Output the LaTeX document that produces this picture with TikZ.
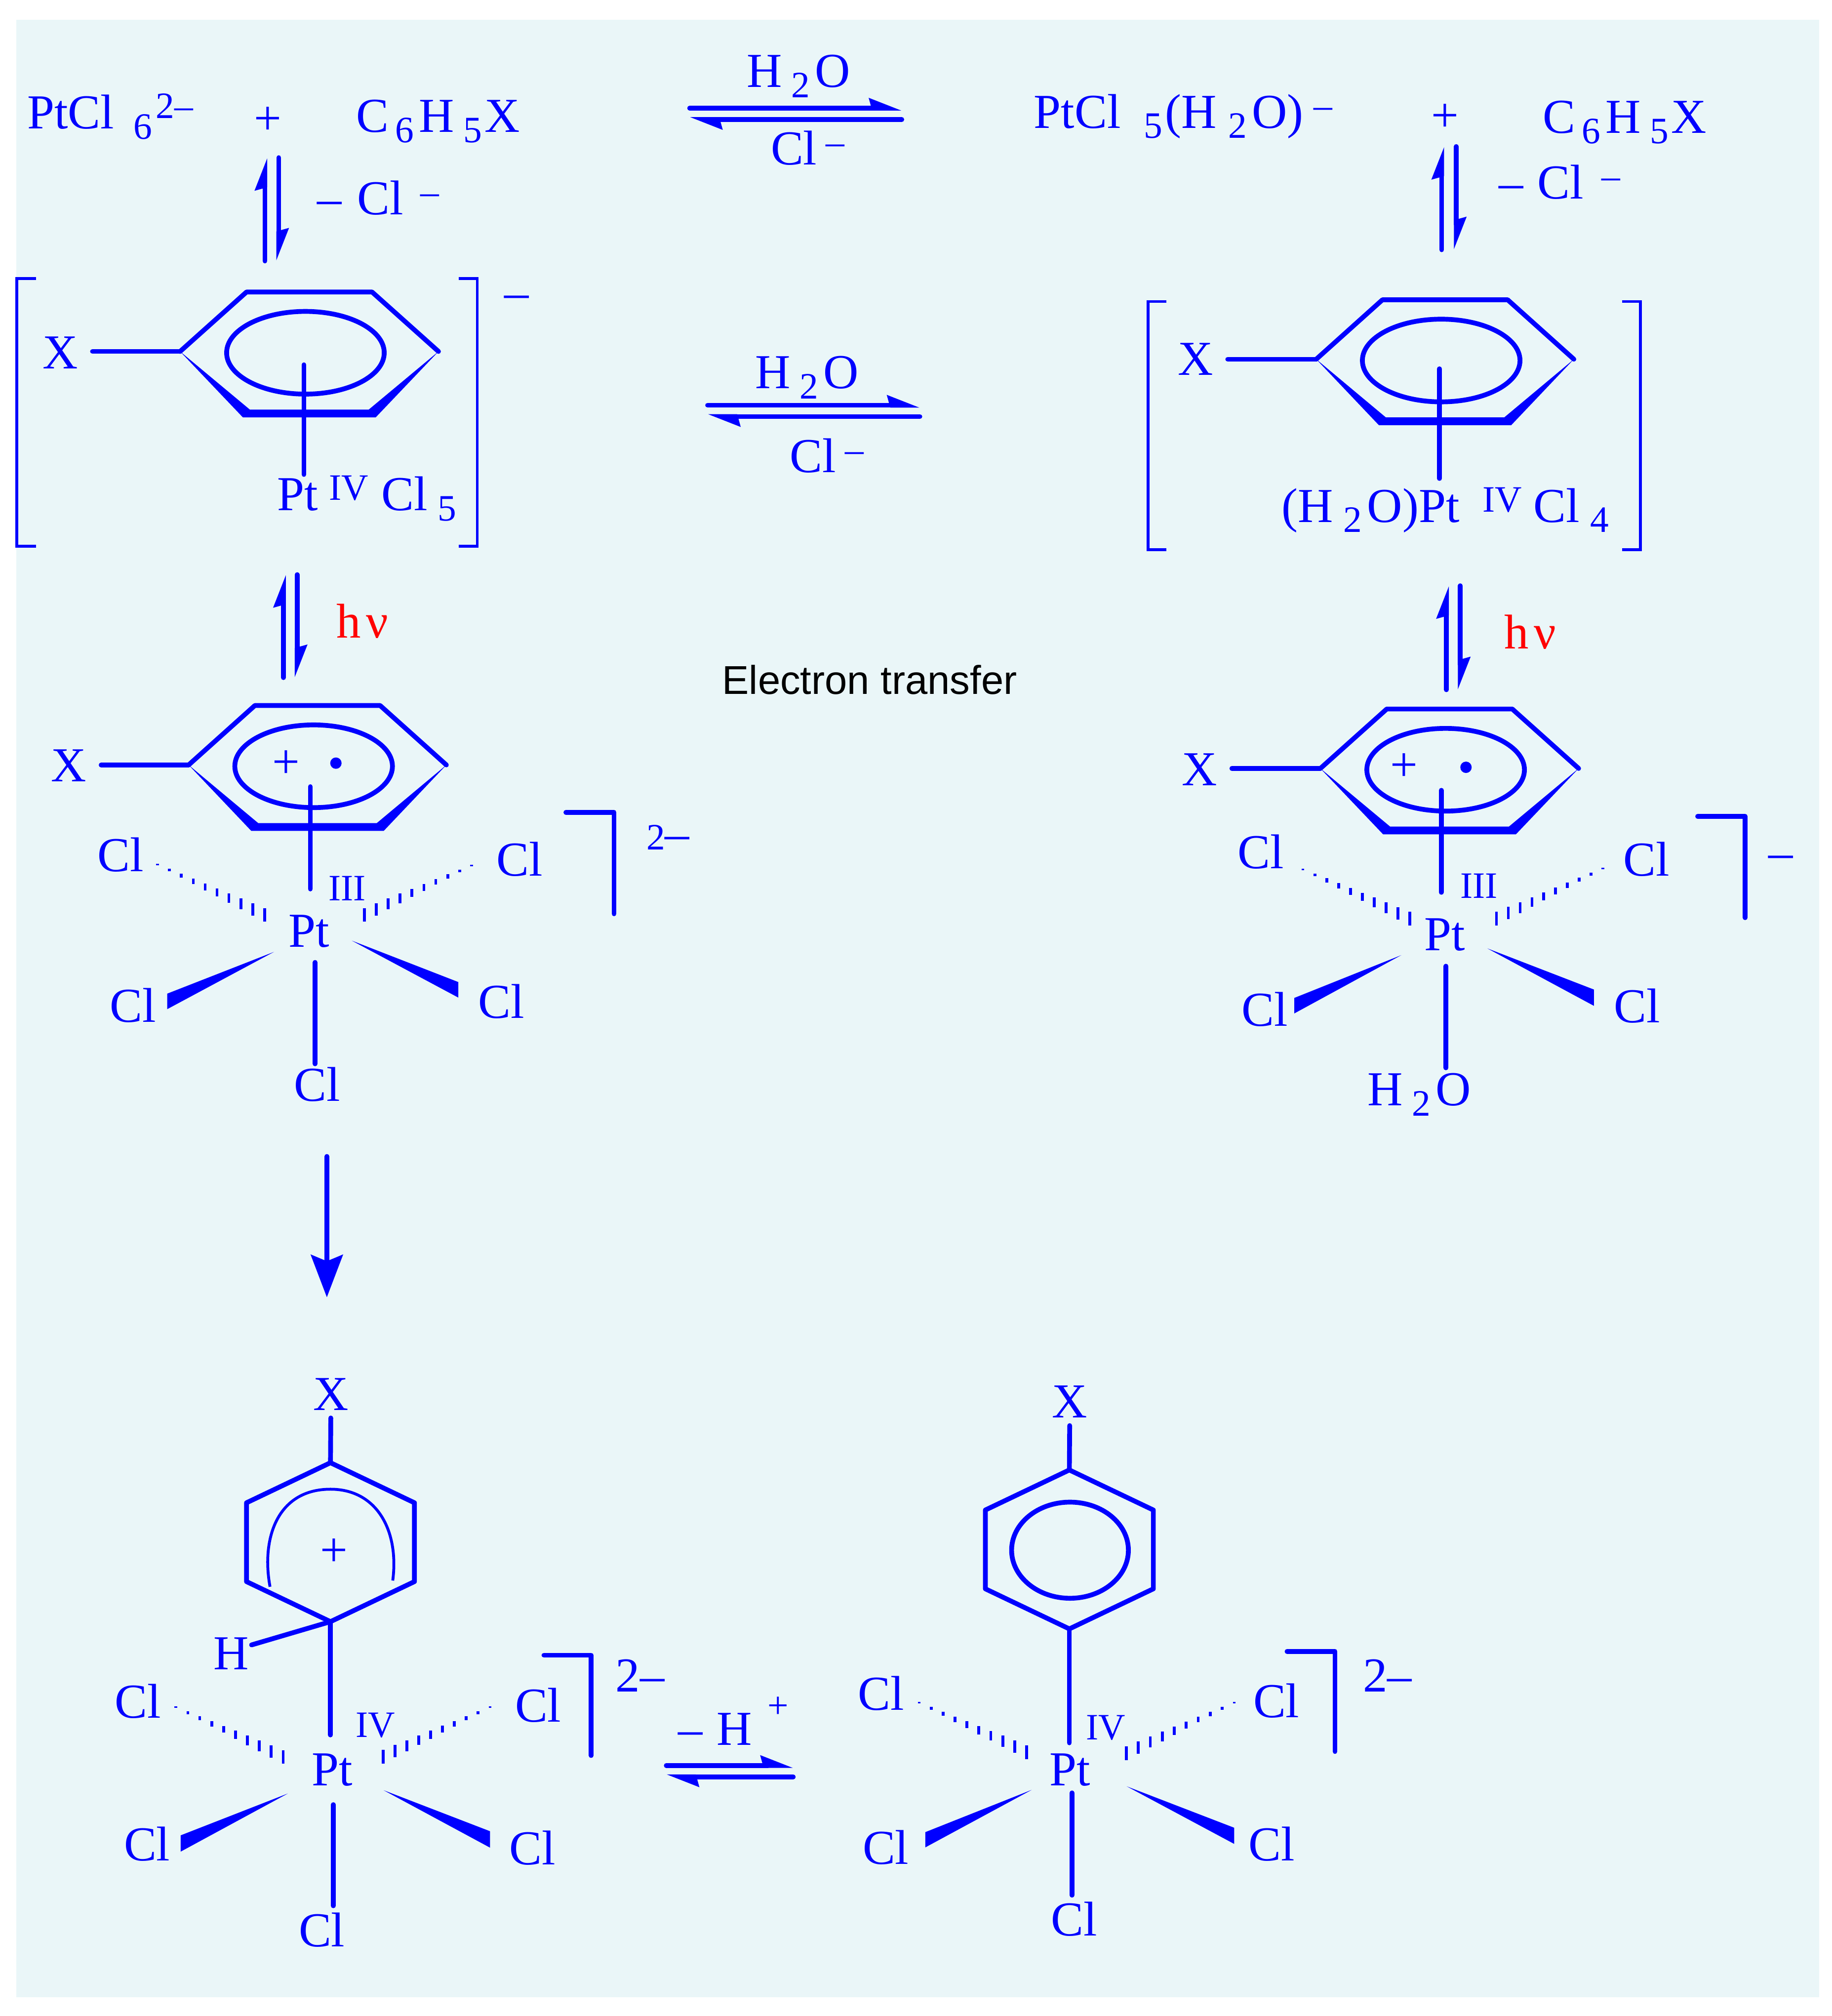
\documentclass[tikz,border=0pt]{standalone}
\usepackage{fontspec}
\setmainfont{Liberation Serif}
\newfontfamily\labelsans{Liberation Sans}
\usetikzlibrary{arrows.meta}
\definecolor{panelblue}{HTML}{EAF6F8}
\definecolor{chemblue}{HTML}{0000FF}
\newlength{\px}
\setlength{\px}{0.02cm}
\newcommand{\mainf}{\fontsize{21.5}{24}\selectfont}
\newcommand{\subf}{\fontsize{16.4}{18}\selectfont}
\newcommand{\kn}[1]{\kern#1\px\relax}
\newcommand{\chemsub}[1]{\raisebox{-8\px}{\subf #1}}
\newcommand{\chemsup}[1]{\raisebox{8\px}{\subf #1}}
\newcommand{\water}{H\kn{7}\chemsub{2}\kn{4}O}
\newcommand{\aryl}{C\kn{5}\chemsub{6}\kn{4}H\kn{7}\chemsub{5}\kn{2}X}
\tikzset{
  lab/.style     = {anchor=base west, inner sep=0pt, font=\mainf, text=chemblue},
  bond/.style    = {draw=chemblue, line width=3.7\px, line cap=round, line join=round},
  thinline/.style= {draw=chemblue, line width=2.2\px},
  xbond/.style   = {bond, shorten <=11\px},
  hash/.style    = {draw=chemblue, line width=2.2\px},
  eqarrow/.style = {bond, -{Stealth[harpoon,length=11.5pt,width=8.6pt,inset=1pt]}},
  longarrow/.style = {draw=chemblue, line width=3.8\px, line cap=round,
                      -{Stealth[length=18.7pt,width=14pt,inset=2.8pt]}}
}
% pi complex ring, left vertex at (#2,#3), width #4
\newcommand{\flatring}[4]{
  \begin{scope}[shift={(#2,#3)}]
    \coordinate (#1-l) at (0,0);
    \coordinate (#1-r) at (#4,0);
    \draw[bond] (#1-l) -- ({0.257*#4},-46) -- ({0.743*#4},-46) -- (#1-r);
    \fill[chemblue] (#1-l) -- ({0.243*#4},51) -- ({0.757*#4},51) -- (#1-r)
      -- ({0.73*#4},45) -- ({0.27*#4},45) -- cycle;
    \draw[bond] ({0.485*#4},1) ellipse (61 and 32);
  \end{scope}
}
% upright ring, top vertex at (#2,#3)
\newcommand{\hexring}[3]{
  \begin{scope}[shift={(#2,#3)}]
    \coordinate (#1-t) at (0,0);
    \coordinate (#1-b) at (0,123);
    \draw[bond] (#1-t) -- (65,31) -- (65,92) -- (#1-b) -- (-65,92) -- (-65,31) -- cycle;
  \end{scope}
}
\newcommand{\bondat}[5]{
  \coordinate (#1-a) at (#2,#3);
  \coordinate (#1-b) at (#4,#5);
  \draw[bond] (#1-a) -- (#1-b);
}
\newcommand{\hequil}[5]{
  \coordinate (#1-a) at (#2,#4);
  \coordinate (#1-b) at (#3,#4);
  \coordinate (#1-c) at (#3,#5);
  \coordinate (#1-d) at (#2,#5);
  \draw[eqarrow] (#1-a) -- (#1-b);
  \draw[eqarrow] (#1-c) -- (#1-d);
}
\newcommand{\vequil}[5]{
  \coordinate (#1-a) at (#2,#5);
  \coordinate (#1-b) at (#2,#4);
  \coordinate (#1-c) at (#3,#4);
  \coordinate (#1-d) at (#3,#5);
  \draw[eqarrow] (#1-a) -- (#1-b);
  \draw[eqarrow] (#1-c) -- (#1-d);
}
% tip x, tip y, base x, base y top, base y bottom
\newcommand{\solidwedge}[5]{
  \fill[chemblue] (#1,#2) -- (#3,#4) -- (#3,#5) -- cycle;
}
% near x, near y, far x, far y
\newcommand{\hashwedge}[4]{
  \foreach \i in {0,...,9} {
    \pgfmathsetmacro{\hx}{#1+(#3-#1)*\i/9}
    \pgfmathsetmacro{\hy}{#2+(#4-#2)*\i/9}
    \pgfmathsetmacro{\hl}{5.3-0.53*\i}
    \draw[hash] (\hx,\hy-\hl) -- (\hx,\hy+\hl);
  }
}

\begin{document}
\begin{tikzpicture}[x=0.02cm, y=-0.02cm]
  \fill[white] (0,0) rectangle (1418,1560.2);
  \useasboundingbox (0,0) rectangle (1418,1560.2);
  \fill[panelblue] (12.5,15.3) rectangle (1408,1545.5);

  % top row
  \node[lab] (startpt) at (20.8,99.5) {PtCl\kn{15}\chemsub{6}\kn{3}\chemsup{2–}};
  \node[lab] (plusa) at (196.3,104.2) {+};
  \node[lab] (aryla) at (275.5,102.4) {\aryl};
  \node[lab] (watera) at (577.8,67.3) {\water};
  \node[lab] (chla) at (596.3,127.3) {Cl\kn{7}\chemsup{–}};
  \hequil{eqa}{533.8}{698}{83.7}{92.5}
  \node[lab] (startaq) at (799.9,99) {PtCl\kn{18}\chemsub{5}\kn{2}(H\kn{9}\chemsub{2}\kn{4}O)\kn{8}\chemsup{–}};
  \node[lab] (plusb) at (1107.3,101.7) {+};
  \node[lab] (arylb) at (1193.8,103) {\aryl};

  \vequil{eqb}{205}{215.7}{122}{202}
  \node[lab] (lossa) at (245.4,165.9) {–\kn{12}Cl\kn{13}\chemsup{–}};
  \vequil{eqc}{1115.9}{1127.2}{113.4}{193.3}
  \node[lab] (lossb) at (1159.7,153.8) {–\kn{11}Cl\kn{14}\chemsup{–}};

  % pi complexes
  \flatring{ringa}{139.4}{272}{200}
  \node[lab] (xa) at (32.6,285.3) {X};
  \draw[xbond] (xa.east |- ringa-l) -- (ringa-l);
  \bondat{pia}{235.2}{282.3}{235.2}{367.2}
  \node[lab] (pta) at (214.4,395) {Pt\kn{8.6}\chemsup{IV}\kn{10}Cl\kn{8}\chemsub{5}};
  \draw[thinline] (27.8,215.6) -- (13,215.6) -- (13,422.8) -- (27.8,422.8);
  \draw[thinline] (355,215.6) -- (369.4,215.6) -- (369.4,422.8) -- (355,422.8);
  \node[lab] (chargea) at (390,238.5) {–};

  \node[lab] (waterb) at (584.3,300.5) {\water};
  \hequil{eqd}{547.7}{712}{313.6}{322.4}
  \node[lab] (chlb) at (611,365.7) {Cl\kn{7}\chemsup{–}};

  \flatring{ringb}{1018.8}{278}{199.4}
  \node[lab] (xb) at (911.3,290.4) {X};
  \draw[xbond] (xb.east |- ringb-l) -- (ringb-l);
  \bondat{pib}{1114.2}{285.4}{1114.2}{370.3}
  \node[lab] (ptb) at (991.7,404) {(H\kn{8}\chemsub{2}\kn{4}O)Pt\kn{18}\chemsup{IV}\kn{9}Cl\kn{8}\chemsub{4}};
  \draw[thinline] (902.9,233.3) -- (888.7,233.3) -- (888.7,425.3) -- (902.9,425.3);
  \draw[thinline] (1255.5,233.3) -- (1269.7,233.3) -- (1269.7,425.3) -- (1255.5,425.3);

  % light step
  \vequil{eqe}{219.4}{230}{444.7}{524.4}
  \node[lab, text=red] (hva) at (260.3,493.5) {h\kn{4}ν};
  \vequil{eqf}{1119.6}{1130.3}{453.3}{533.8}
  \node[lab, text=red] (hvb) at (1164.2,502) {h\kn{4}ν};
  \node[lab, font=\labelsans\fontsize{17.7}{20}\selectfont, text=black] (transfer) at (558.7,537.3) {Electron transfer};

  % radical complex, left
  \flatring{ringc}{146}{592}{199.5}
  \node[lab] (xc) at (39.3,604.8) {X};
  \draw[xbond] (xc.east |- ringc-l) -- (ringc-l);
  \node[lab] (plusc) at (210.5,602) {+};
  \fill[chemblue] (260,590.6) circle (4.4);
  \bondat{pic}{240.2}{608.8}{240.2}{688}
  \node[lab] (ptc) at (223,732.7) {Pt};
  \node[lab, font=\subf] (oxc) at (254,696.8) {III};
  \node[lab] (clca) at (75,674.5) {Cl};
  \node[lab] (clcb) at (384,677.7) {Cl};
  \node[lab] (clcc) at (84.8,791) {Cl};
  \node[lab] (clcd) at (370,788) {Cl};
  \node[lab] (clce) at (227.4,852.3) {Cl};
  \hashwedge{204.8}{708}{122}{669}
  \hashwedge{282}{708}{365}{669.7}
  \solidwedge{212}{736.7}{129.4}{769}{781}
  \solidwedge{272.4}{728}{354.7}{760}{772}
  \bondat{dnc}{243.9}{744.8}{243.9}{823.3}
  \draw[bond] (438,628.7) -- (475.3,628.7) -- (475.3,707.2);
  \node[lab] (chargec) at (500,657.6) {{\subf 2}–};

  % radical complex, right
  \flatring{ringd}{1022}{594.7}{199.9}
  \node[lab] (xd) at (914.5,607.8) {X};
  \draw[xbond] (xd.east |- ringd-l) -- (ringd-l);
  \node[lab] (plusd) at (1075.8,604.5) {+};
  \fill[chemblue] (1134.7,593.8) circle (4.4);
  \bondat{pid}{1115.6}{611.6}{1115.6}{690.6}
  \node[lab] (ptd) at (1102.3,735.7) {Pt};
  \node[lab, font=\subf] (oxd) at (1129.9,695) {III};
  \node[lab] (clda) at (957.7,672.2) {Cl};
  \node[lab] (cldb) at (1256.2,678) {Cl};
  \node[lab] (cldc) at (960.6,794.2) {Cl};
  \node[lab] (cldd) at (1248.8,791.3) {Cl};
  \node[lab] (waterd) at (1058.2,855.6) {\water};
  \hashwedge{1091.3}{711}{1008.5}{672.8}
  \hashwedge{1158.3}{711}{1240.7}{672.2}
  \solidwedge{1084.6}{739.2}{1001.8}{772.3}{784.3}
  \solidwedge{1151.3}{734}{1233.7}{765.8}{778.4}
  \bondat{dnd}{1119.2}{747.7}{1119.2}{826.4}
  \draw[bond] (1314,631.8) -- (1350.8,631.8) -- (1350.8,710.2);
  \node[lab] (charged) at (1368.4,672) {–};

  \coordinate (longa) at (253,895);
  \coordinate (longb) at (253,1004);
  \draw[longarrow] (longa) -- (longb);

  % wheland intermediate
  \node[lab] (xe) at (242.1,1091.4) {X};
  \hexring{ringe}{255.8}{1132}
  \draw[bond, shorten <=5.6\px] (xe.south) -- (ringe-t);
  \draw[draw=chemblue, line width=2.2\px] (209,1228) .. controls (202,1190) and (215,1152.5) .. (255.8,1152.5)
    .. controls (292,1152.5) and (309,1185) .. (304,1223.2);
  \node[lab] (pluse) at (247.6,1212) {+};
  \node[lab] (he) at (165,1292) {H};
  \coordinate (he-b) at (194.7,1273);
  \draw[bond] (he-b) -- (ringe-b);
  \coordinate (pte-a) at (255.8,1342.7);
  \draw[bond] (ringe-b) -- (pte-a);
  \node[lab] (pte) at (241.1,1381.7) {Pt};
  \node[lab, font=\subf] (oxe) at (275,1344.3) {IV};
  \node[lab] (clea) at (88.7,1329.4) {Cl};
  \node[lab] (cleb) at (398.3,1332.6) {Cl};
  \node[lab] (clec) at (95.6,1440) {Cl};
  \node[lab] (cled) at (394,1442.9) {Cl};
  \node[lab] (clee) at (230.9,1506.6) {Cl};
  \hashwedge{219.2}{1359.7}{136.2}{1321.2}
  \hashwedge{296.7}{1359.5}{379.3}{1321.2}
  \solidwedge{222.8}{1388}{139.8}{1420.4}{1433}
  \solidwedge{297}{1385.5}{379.3}{1417.2}{1429.9}
  \bondat{dne}{258}{1396.6}{258}{1474.9}
  \draw[bond] (421,1281) -- (457.6,1281) -- (457.6,1358.6);
  \node[lab] (chargee) at (476.2,1309.4) {2–};

  \node[lab] (proton) at (524.5,1350.6) {–\kn{11}H\kn{12}\raisebox{21\px}{\subf +}};
  \hequil{eqg}{515.7}{614}{1366.3}{1375.1}

  % product complex
  \node[lab] (xf) at (814,1097.1) {X};
  \hexring{ringf}{827.7}{1137.6}
  \draw[bond, shorten <=5.8\px] (xf.south) -- (ringf-t);
  \draw[bond] (828.2,1199.7) ellipse (45.2 and 37.2);
  \coordinate (ptf-a) at (827.7,1348.8);
  \draw[bond] (ringf-b) -- (ptf-a);
  \node[lab] (ptf) at (812.1,1381.8) {Pt};
  \node[lab, font=\subf] (oxf) at (840.2,1346.4) {IV};
  \node[lab] (clfa) at (663.9,1323.5) {Cl};
  \node[lab] (clfb) at (969.7,1329.3) {Cl};
  \node[lab] (clfc) at (667.4,1442.5) {Cl};
  \node[lab] (clfd) at (966.2,1439.8) {Cl};
  \node[lab] (clfe) at (813.3,1498.1) {Cl};
  \hashwedge{794.6}{1356}{711.5}{1317.8}
  \hashwedge{871.8}{1356.8}{955.3}{1317.8}
  \solidwedge{798.5}{1385.2}{716.2}{1417.9}{1429.7}
  \solidwedge{872.2}{1382.5}{955.3}{1414.5}{1427}
  \bondat{dnf}{829.7}{1387.5}{829.7}{1466.7}
  \draw[bond] (996.2,1278) -- (1033.3,1278) -- (1033.3,1355.5);
  \node[lab] (chargef) at (1054.7,1309.4) {2–};
\end{tikzpicture}
\end{document}
